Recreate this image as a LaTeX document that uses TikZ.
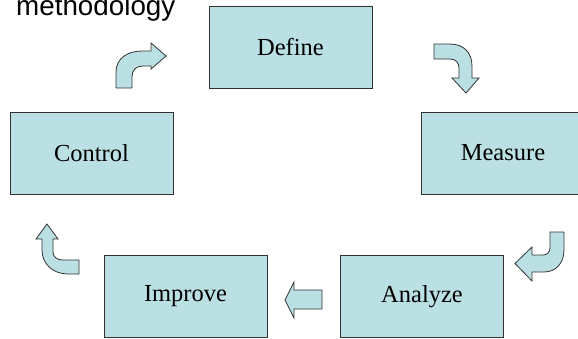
\documentclass[tikz,border=0pt]{standalone}
\usepackage{fontspec}
\setmainfont{Liberation Serif}
\newfontfamily\titlefont{Liberation Sans}
\definecolor{boxfill}{RGB}{187,224,227}
\definecolor{edge}{RGB}{50,50,50}
\begin{document}
\begin{tikzpicture}[x=1pt,y=-1pt,
  stage/.style={draw=edge, fill=boxfill, line width=0.9pt, minimum width=163pt,
    minimum height=82pt, inner sep=0pt, font=\fontsize{24.5}{26}\selectfont},
  blockarrow/.style={draw=edge, fill=boxfill, line width=0.8pt, line join=miter}]
\useasboundingbox (0,0) rectangle (578,338);
\clip (0,0) rectangle (578,338);

% heading, partly above the page edge
\node[anchor=base west, inner sep=0pt, font=\titlefont\fontsize{27.8}{30}\selectfont] (title) at (16,15) {methodology};

% the five stages
\node[stage] (define)  at (290.5,47)  {Define};
\node[stage] (measure) at (503,153)   {Measure};
\node[stage] (analyze) at (422,296.5) {Analyze};
\node[stage] (improve) at (185.5,296.5) {Improve};
\node[stage] (control) at (91.5,153)  {Control};

% Control -> Define: bent arrow turning right
\draw[blockarrow] (116,88) -- (116,72) .. controls (116,58) and (128,51) .. (142,51)
  -- (151,51) -- (151,43) -- (166,56) -- (151,69) -- (151,66) -- (143,66)
  .. controls (136,66) and (132,70) .. (132,77) -- (132,88) -- cycle;

% Define -> Measure: bent arrow turning down
\draw[blockarrow] (434,44) -- (450,44) .. controls (464,44) and (472,53) .. (472,66)
  -- (472,78) -- (479,78) -- (466,93) -- (452,78) -- (459,78) -- (459,68)
  .. controls (459,63) and (456,59) .. (450,59) -- (434,59) -- cycle;

% Measure -> Analyze: bent arrow turning left
\draw[blockarrow] (550,232) -- (564,232) -- (564,250) .. controls (564,263) and (556,272) .. (544,272)
  -- (532,272) -- (532,281) -- (515,263.5) -- (532,247) -- (532,255) -- (543,255)
  .. controls (547,255) and (550,252) .. (550,248) -- cycle;

% Analyze -> Improve: straight arrow
\draw[blockarrow] (322,290) -- (294,290) -- (294,282) -- (285,300) -- (294,318)
  -- (294,309) -- (322,309) -- cycle;

% Improve -> Control: bent arrow turning up
\draw[blockarrow] (79,274) -- (68,274) .. controls (53,274) and (42,264) .. (42,250)
  -- (42,239) -- (36,239) -- (47,224) -- (58,239) -- (53,239) -- (53,252)
  .. controls (53,257) and (57,260) .. (63,260) -- (79,260) -- cycle;
\end{tikzpicture}
\end{document}
